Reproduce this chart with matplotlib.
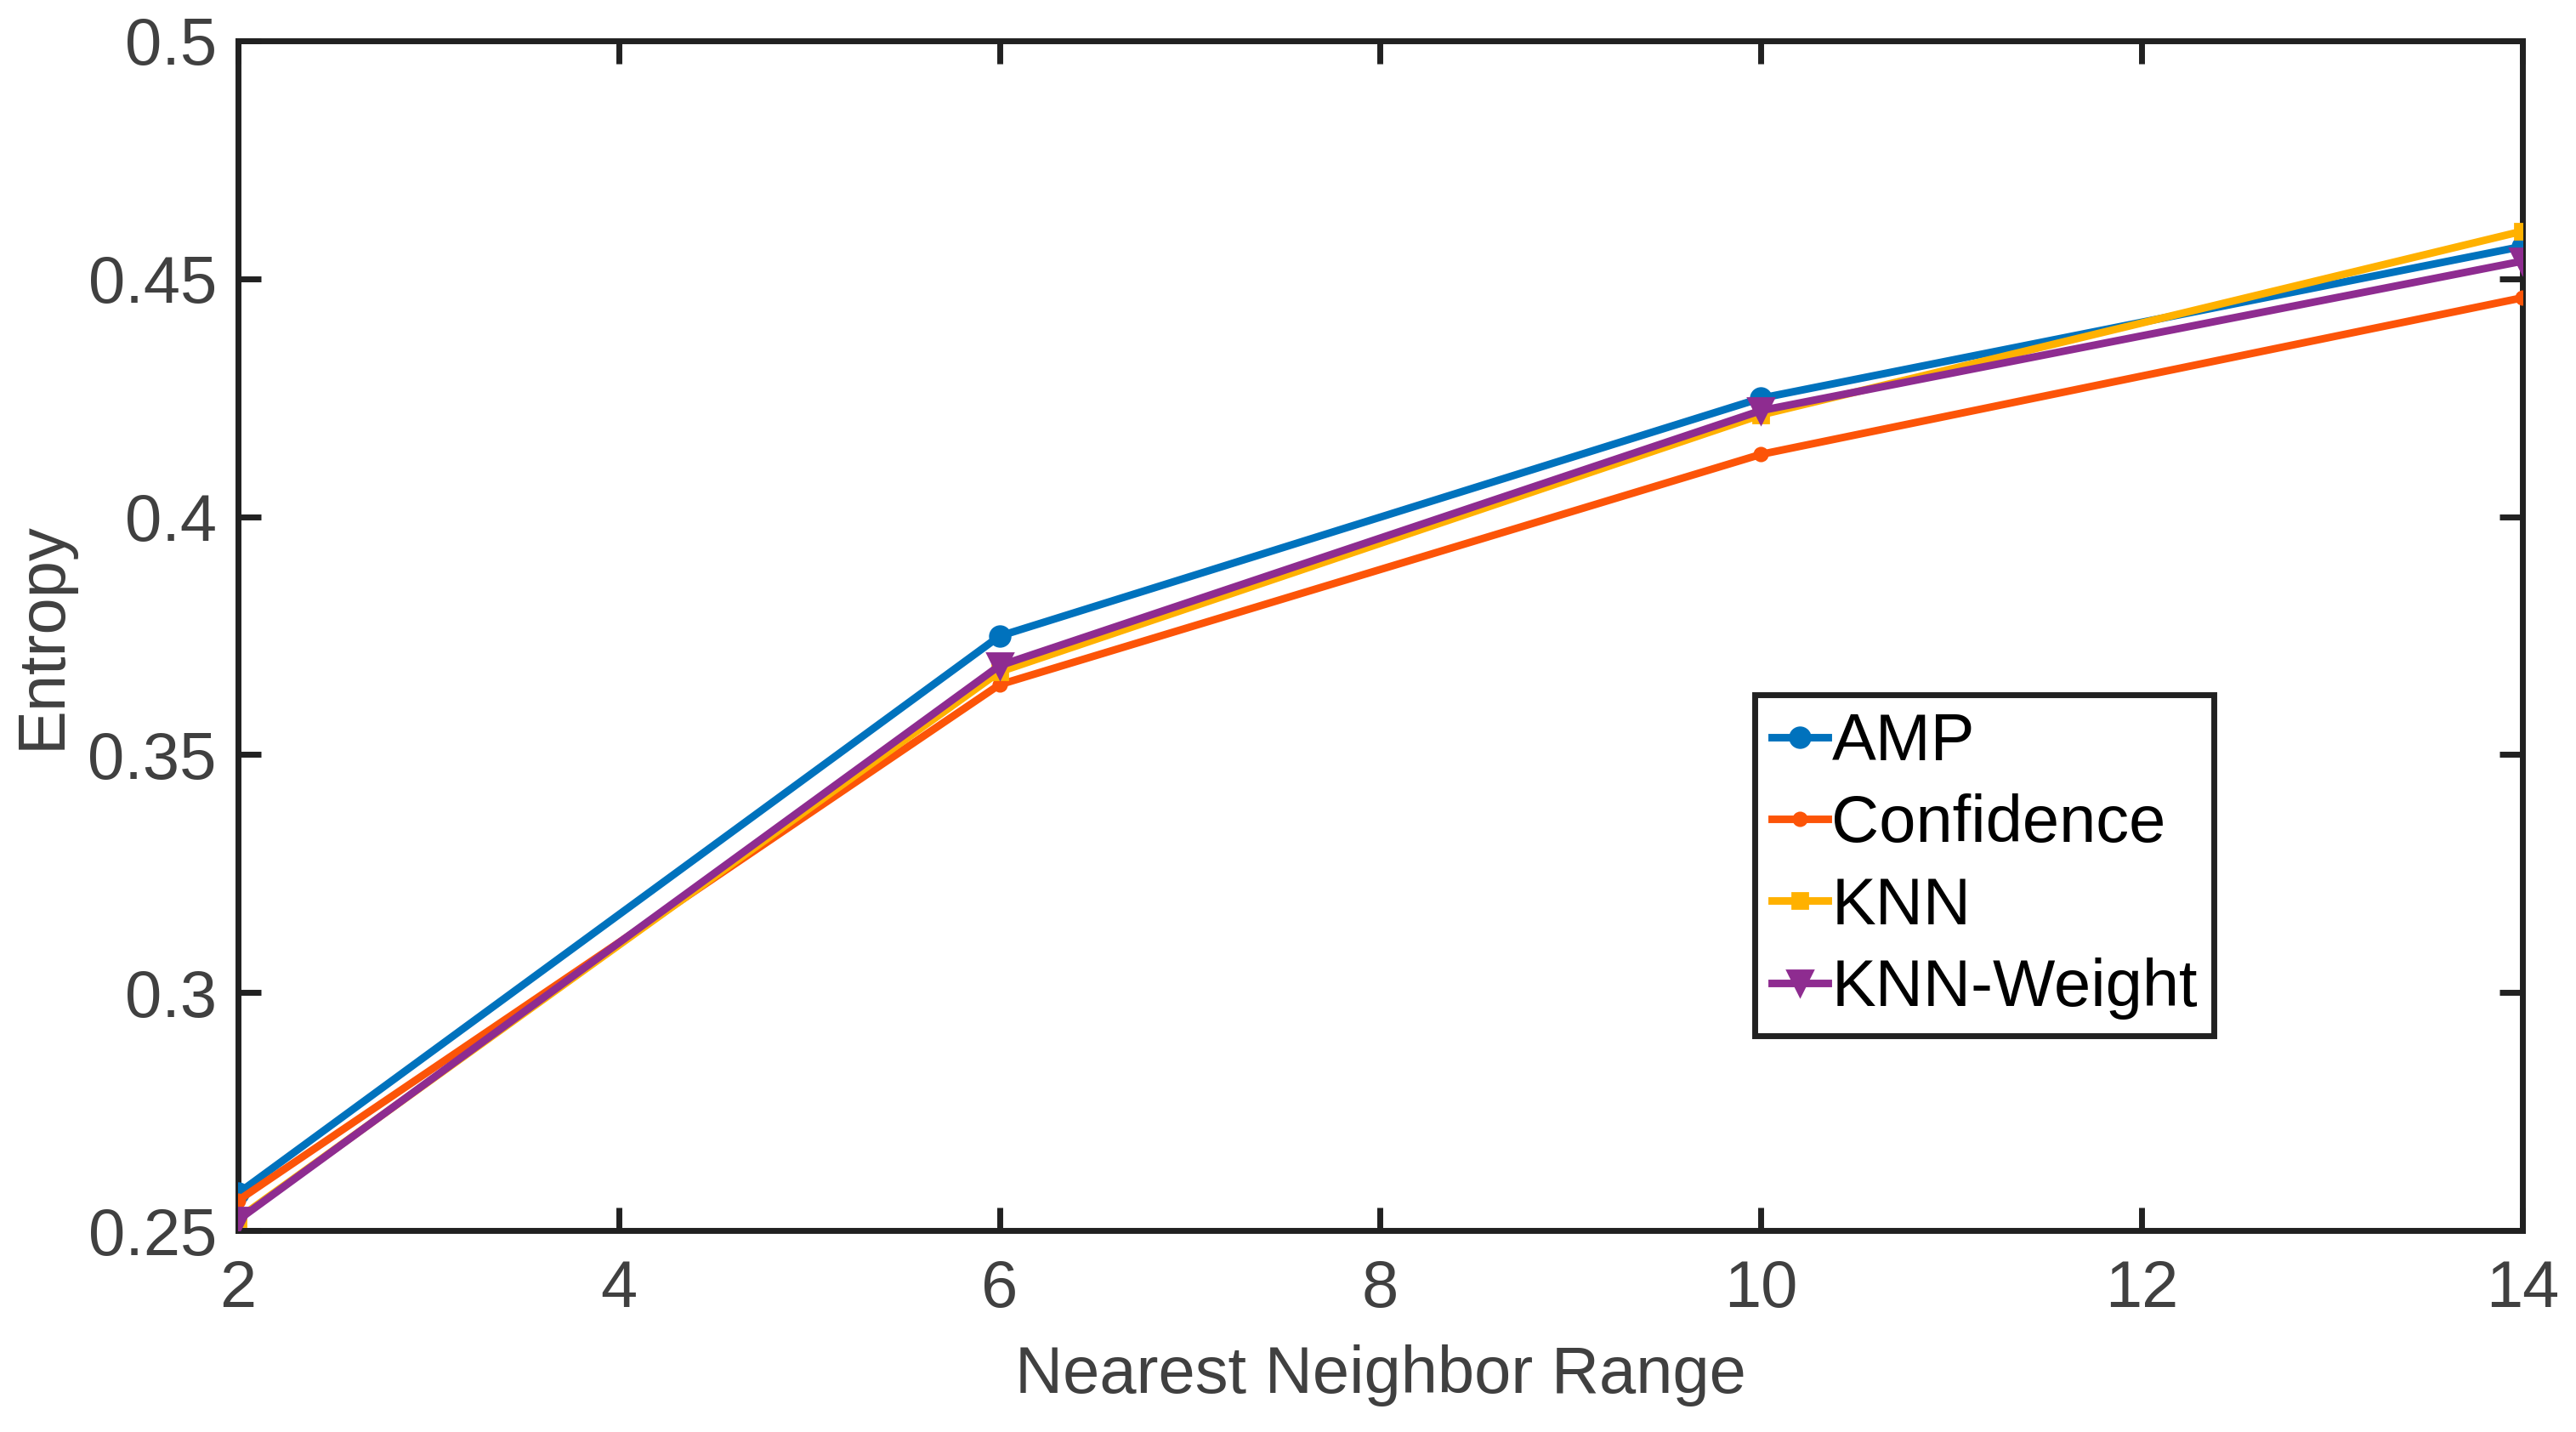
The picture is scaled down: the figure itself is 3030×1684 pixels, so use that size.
import numpy as np
import matplotlib.pyplot as plt

plt.rcParams['font.family'] = ['Liberation Sans', 'DejaVu Sans']

# neighbor range on x, entropy values
k_range = [2, 6, 10, 14]
amp = [0.2578, 0.3749, 0.4249, 0.4568]
confidence = [0.2563, 0.3647, 0.4131, 0.4460]
knn = [0.2525, 0.3674, 0.4214, 0.4600]
knn_weight = [0.2522, 0.3687, 0.4223, 0.4537]

x_ticks = [2, 4, 6, 8, 10, 12, 14]
y_ticks = [0.25, 0.3, 0.35, 0.4, 0.45, 0.5]
y_labels = ['0.25', '0.3', '0.35', '0.4', '0.45', '0.5']

fs = 28
axis_col = '#212121'
text_col = '#404040'

fig = plt.figure(figsize=(15.15, 8.42), dpi=200)
ax = fig.add_axes([0.0924, 0.1407, 0.8868, 0.8308])

lw = 3.2
ax.plot(k_range, amp, color='#0072BD', lw=lw, marker='o', ms=8.5, label='AMP')
ax.plot(k_range, confidence, color='#FC5408', lw=lw, marker='o', ms=5.5, label='Confidence')
ax.plot(k_range, knn, color='#FFB100', lw=lw, marker='s', ms=6.5, label='KNN')
ax.plot(k_range, knn_weight, color='#8E2C90', lw=lw, marker='v', ms=10.5, label='KNN-Weight')

ax.set_xlim(2, 14)
ax.set_ylim(0.25, 0.5)
ax.set_xticks(x_ticks)
ax.set_yticks(y_ticks)
ax.set_yticklabels(y_labels)

for s in ax.spines.values():
    s.set_linewidth(2.5)
    s.set_color(axis_col)
    s.set_zorder(1)
ax.tick_params(direction='in', length=9.6, width=2.5, color=axis_col,
               labelcolor=text_col, labelsize=fs, top=True, right=True)
ax.tick_params(axis='y', pad=9)
ax.tick_params(axis='x', pad=12)

ax.set_xlabel('Nearest Neighbor Range', fontsize=fs, color=text_col, labelpad=10)
ax.set_ylabel('Entropy', fontsize=fs, color=text_col, labelpad=6)

leg = ax.legend(loc='upper left', bbox_to_anchor=(0.664, 0.450), borderaxespad=0,
                fontsize=fs, fancybox=False, framealpha=1, edgecolor=axis_col,
                handlelength=0.85, handletextpad=0.06, labelspacing=0.3,
                borderpad=0.25)
leg.get_frame().set_linewidth(2.5)

fig.savefig('out.png', dpi=200)
